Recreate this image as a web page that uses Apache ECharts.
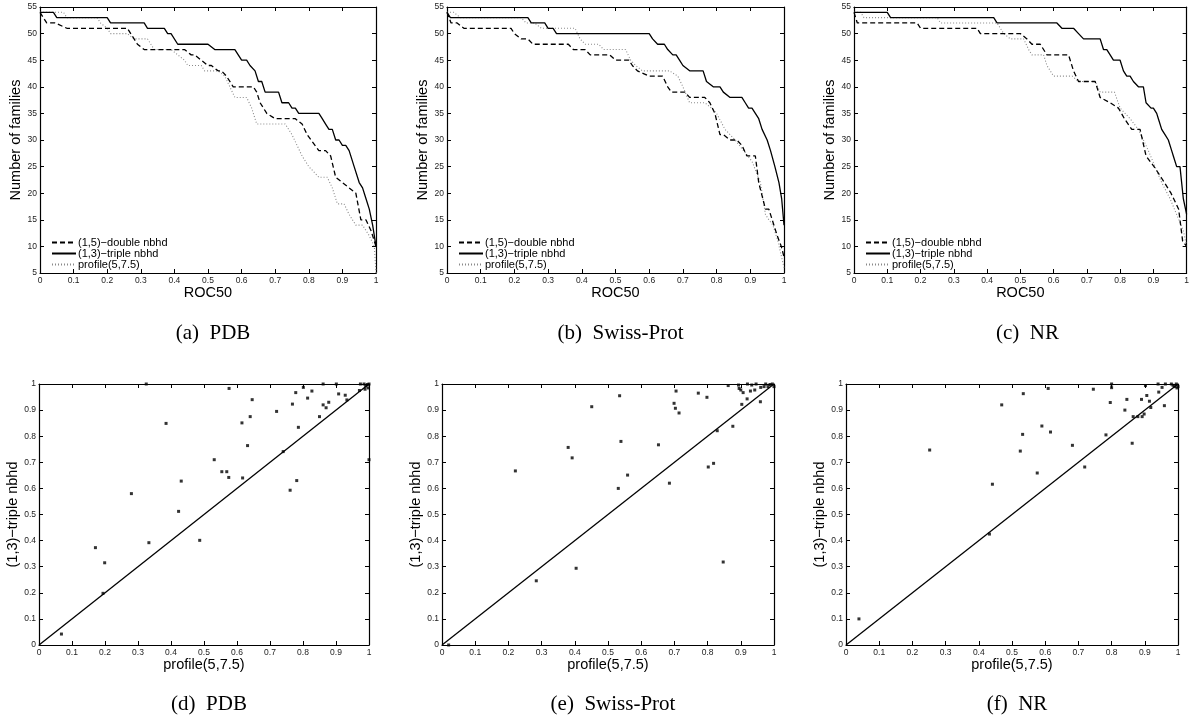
<!DOCTYPE html>
<html><head><meta charset="utf-8">
<script src="https://cdn.jsdelivr.net/npm/echarts@6/dist/echarts.min.js"></script>
<style>html,body{margin:0;padding:0;background:#fff}#c{width:1192px;height:719px}</style>
</head><body><div id="c"></div><script>
// ---------- data ----------
const seriesNames = ['(1,5)\u2212double nbhd', '(1,3)\u2212triple nbhd', 'profile(5,7.5)'];
const captions = ['(a)  PDB', '(b)  Swiss-Prot', '(c)  NR', '(d)  PDB', '(e)  Swiss-Prot', '(f)  NR'];
const rocAxisName = 'ROC50';
const famAxisName = 'Number of families';
const scatterXName = 'profile(5,7.5)';
const scatterYName = '(1,3)\u2212triple nbhd';

const pdbDouble = [[0,54],[0.02,52],[0.045,52],[0.08,51],[0.26,51],[0.27,50],[0.28,49],[0.29,48],[0.31,47],[0.43,47],[0.45,46],[0.46,46],[0.48,45],[0.5,44],[0.51,44],[0.53,43],[0.54,43],[0.555,42],[0.575,40],[0.635,40],[0.645,39],[0.655,37],[0.675,35],[0.7,34],[0.76,34],[0.78,33],[0.795,31],[0.83,28],[0.85,28],[0.865,27],[0.88,23],[0.9,22],[0.92,21],[0.94,20],[0.955,15],[0.97,15],[0.985,13],[1,10]];
const pdbTriple = [[0,54],[0.04,54],[0.05,53],[0.2,53],[0.21,52],[0.31,52],[0.32,51],[0.37,51],[0.38,50],[0.39,50],[0.41,48],[0.5,48],[0.52,47],[0.58,47],[0.59,46],[0.6,45],[0.615,45],[0.625,44],[0.64,43],[0.65,41],[0.66,41],[0.67,39],[0.71,39],[0.72,37],[0.74,37],[0.75,36],[0.76,36],[0.77,35],[0.83,35],[0.84,34],[0.85,33],[0.86,32],[0.87,32],[0.88,30],[0.89,30],[0.9,29],[0.91,29],[0.92,28],[0.935,25],[0.95,22],[0.96,21],[0.97,19],[0.98,17],[0.99,14],[1,10]];
const pdbProfile = [[0,54],[0.07,54],[0.08,53],[0.17,53],[0.18,52],[0.2,51],[0.21,50],[0.26,50],[0.28,49],[0.32,49],[0.33,48],[0.34,47],[0.39,47],[0.41,46],[0.43,45],[0.44,44],[0.48,44],[0.49,43],[0.53,43],[0.55,42],[0.565,40],[0.58,38],[0.615,38],[0.63,36],[0.645,33],[0.73,33],[0.75,31],[0.765,29],[0.78,27],[0.8,25],[0.83,23],[0.855,23],[0.87,21],[0.885,18],[0.905,18],[0.92,16],[0.94,14],[0.96,14],[0.98,12],[0.995,10],[1,5]];

const spDouble = [[0,54],[0.012,52],[0.03,52],[0.05,51],[0.19,51],[0.2,50],[0.22,49],[0.24,49],[0.255,48],[0.36,48],[0.375,47],[0.41,47],[0.425,46],[0.483,46],[0.5,45],[0.54,45],[0.55,44],[0.565,43],[0.6,42],[0.64,42],[0.655,40],[0.666,39],[0.706,39],[0.72,38],[0.765,38],[0.78,37],[0.795,35],[0.81,31],[0.82,31],[0.84,30],[0.86,30],[0.875,29],[0.89,27],[0.915,27],[0.925,22],[0.945,17],[0.955,17],[0.965,15],[0.98,12],[0.992,10],[1,8]];
const spTriple = [[0,54],[0.01,53],[0.24,53],[0.25,52],[0.29,52],[0.3,51],[0.315,51],[0.325,50],[0.6,50],[0.61,49],[0.625,48],[0.645,48],[0.655,47],[0.67,46],[0.68,46],[0.69,45],[0.7,44],[0.72,43],[0.76,43],[0.77,41],[0.79,40],[0.81,40],[0.82,39],[0.84,38],[0.875,38],[0.885,37],[0.895,36],[0.905,36],[0.915,35],[0.925,34],[0.935,32],[0.95,30],[0.96,28],[0.973,25],[0.985,22],[0.993,19],[1,14]];
const spProfile = [[0,54],[0.02,54],[0.04,53],[0.22,53],[0.235,52],[0.26,52],[0.28,51],[0.38,51],[0.395,49],[0.41,48],[0.45,48],[0.465,47],[0.53,47],[0.545,45],[0.56,44],[0.58,43],[0.66,43],[0.685,42],[0.7,40],[0.72,37],[0.765,37],[0.785,36],[0.8,35],[0.825,32],[0.855,30],[0.88,28],[0.905,26],[0.93,22],[0.945,16],[0.955,15],[0.967,14],[0.982,11],[1,6]];

const nrDouble = [[0,54],[0.01,52],[0.19,52],[0.2,51],[0.37,51],[0.38,50],[0.5,50],[0.52,49],[0.535,48],[0.56,48],[0.58,46],[0.645,46],[0.66,43],[0.675,41],[0.725,41],[0.74,38],[0.77,37],[0.795,36],[0.813,34],[0.835,32],[0.86,32],[0.878,27],[0.902,25],[0.923,23],[0.953,20],[0.976,17],[0.988,11],[1,10]];
const nrTriple = [[0,54],[0.1,54],[0.11,53],[0.42,53],[0.43,52],[0.61,52],[0.625,51],[0.66,51],[0.675,50],[0.69,49],[0.74,49],[0.75,47],[0.76,47],[0.77,46],[0.78,45],[0.8,45],[0.81,43],[0.82,42],[0.83,42],[0.84,41],[0.855,40],[0.87,40],[0.878,37],[0.893,36],[0.9,36],[0.91,35],[0.915,34],[0.925,32],[0.935,31],[0.945,30],[0.955,28],[0.96,27],[0.97,25],[0.98,25],[0.99,19],[1,16]];
const nrProfile = [[0,54],[0.02,54],[0.03,53],[0.25,53],[0.26,52],[0.43,52],[0.45,50],[0.47,49],[0.51,49],[0.525,47],[0.535,46],[0.57,46],[0.58,44],[0.6,42],[0.656,42],[0.675,41],[0.725,41],[0.74,39],[0.783,39],[0.8,36],[0.83,34],[0.855,32],[0.87,30],[0.885,28],[0.905,25],[0.925,22],[0.95,19],[0.97,16],[0.99,13],[1,10]];

const pdbScatter = [[0.068,0.042],[0.194,0.198],[0.171,0.373],[0.199,0.315],[0.28,0.58],[0.333,0.392],[0.385,0.849],[0.423,0.512],[0.431,0.628],[0.487,0.401],[0.531,0.71],[0.554,0.664],[0.569,0.664],[0.575,0.642],[0.576,0.983],[0.615,0.851],[0.617,0.64],[0.632,0.764],[0.64,0.875],[0.646,0.94],[0.72,0.895],[0.74,0.741],[0.761,0.593],[0.768,0.923],[0.778,0.967],[0.781,0.63],[0.786,0.834],[0.801,0.987],[0.814,0.946],[0.827,0.973],[0.85,0.875],[0.861,0.92],[0.861,1.0],[0.87,0.909],[0.878,0.93],[0.908,0.962],[0.901,1.0],[0.928,0.957],[0.933,0.939],[0.971,0.975],[0.974,1.0],[0.985,1.0],[0.99,0.992],[0.995,0.998],[0.998,0.985],[1.0,0.71],[0.325,1.0],[0.988,0.98],[1.0,1.0]];
const spScatter = [[0.02,0.0],[0.221,0.667],[0.284,0.246],[0.38,0.757],[0.392,0.717],[0.404,0.294],[0.451,0.913],[0.531,0.6],[0.535,0.955],[0.539,0.78],[0.559,0.651],[0.652,0.767],[0.685,0.62],[0.699,0.926],[0.703,0.907],[0.705,0.973],[0.714,0.889],[0.772,0.965],[0.798,0.949],[0.802,0.682],[0.818,0.696],[0.829,0.821],[0.847,0.318],[0.876,0.838],[0.862,0.994],[0.893,0.996],[0.895,0.983],[0.9,0.977],[0.903,0.922],[0.907,0.967],[0.919,0.943],[0.929,0.973],[0.933,0.996],[0.942,0.977],[0.946,1.0],[0.959,0.932],[0.96,0.987],[0.975,1.0],[0.982,0.99],[0.988,0.998],[0.995,1.0],[1.0,0.99],[0.92,1.0],[0.97,0.99]];
const nrScatter = [[0.039,0.1],[0.252,0.747],[0.432,0.425],[0.441,0.616],[0.469,0.92],[0.525,0.743],[0.532,0.807],[0.534,0.963],[0.576,0.659],[0.59,0.839],[0.609,0.983],[0.616,0.816],[0.682,0.765],[0.719,0.682],[0.745,0.98],[0.783,0.805],[0.796,0.929],[0.8,1.0],[0.8,0.986],[0.84,0.9],[0.846,0.941],[0.862,0.773],[0.865,0.875],[0.879,0.875],[0.89,0.941],[0.892,0.875],[0.898,0.885],[0.902,0.994],[0.906,0.956],[0.914,0.934],[0.918,0.91],[0.94,1.0],[0.942,0.969],[0.952,0.987],[0.959,0.917],[0.962,1.0],[0.98,1.0],[0.985,0.995],[0.99,0.99],[0.995,1.0],[1.0,0.99],[0.997,0.985]];
const diagonal = [[0,0],[1,1]];

const curveSets = [[pdbDouble, pdbTriple, pdbProfile],[spDouble, spTriple, spProfile],[nrDouble, nrTriple, nrProfile]];
const scatterSets = [pdbScatter, spScatter, nrScatter];

// ---------- layout ----------
const grids = [
  {left:40, top:7, width:336, height:266},
  {left:447, top:7, width:337, height:266},
  {left:854, top:7, width:337, height:266},
  {left:39, top:384, width:330, height:261},
  {left:442, top:384, width:332, height:261},
  {left:846, top:384, width:332, height:261}
];
const SANS = 'Liberation Sans';
const SERIF = 'Liberation Serif';
const lineStyles = [
  {color:'#000', width:1.3, type:[5,3]},
  {color:'#000', width:1.3, type:'solid'},
  {color:'#8a8a8a', width:1.1, type:[1,2]}
];

const xAxes = [], yAxes = [], series = [], titles = [], legends = [];
function fmt1(v){ return String(+v.toFixed(1)); }
grids.forEach((g, gi) => {
  const top = gi < 3;
  const ymin = top ? 5 : 0, ymax = top ? 55 : 1, yint = top ? 5 : 0.1;
  const axLine = {show:true, onZero:false, lineStyle:{color:'#000', width:1.2}};
  const tick = {show:true, inside:true, length:4, lineStyle:{color:'#000', width:1}};
  const lbl = {show:true, fontSize:8.5, color:'#222', margin:3, fontFamily:SANS};
  xAxes.push({type:'value', gridIndex:gi, position:'bottom', min:0, max:1, interval:0.1,
    axisLine:axLine, axisTick:tick, splitLine:{show:false},
    axisLabel:Object.assign({formatter:fmt1}, lbl),
    name: top ? rocAxisName : scatterXName, nameLocation:'middle', nameGap:11,
    nameTextStyle:{fontSize:14.5, fontFamily:SANS, color:'#000'}});
  xAxes.push({type:'value', gridIndex:gi, position:'top', min:0, max:1, interval:0.1,
    axisLine:axLine, axisTick:tick, splitLine:{show:false}, axisLabel:{show:false}});
  yAxes.push({type:'value', gridIndex:gi, position:'left', min:ymin, max:ymax, interval:yint,
    axisLine:axLine, axisTick:tick, splitLine:{show:false},
    axisLabel:Object.assign({formatter: top ? (v => String(v)) : fmt1}, lbl),
    name: top ? famAxisName : scatterYName, nameLocation:'middle', nameGap:14, nameRotate:90,
    nameTextStyle:{fontSize:14.5, fontFamily:SANS, color:'#000'}});
  yAxes.push({type:'value', gridIndex:gi, position:'right', min:ymin, max:ymax, interval:yint,
    axisLine:axLine, axisTick:tick, splitLine:{show:false}, axisLabel:{show:false}});
  const xi = gi*2, yi = gi*2;
  if (top) {
    const sets = curveSets[gi];
    [2,0,1].forEach(k => {
      series.push({type:'line', name:seriesNames[k], xAxisIndex:xi, yAxisIndex:yi, data:sets[k],
        symbol:'none', showSymbol:false, lineStyle:lineStyles[k], itemStyle:{color:lineStyles[k].color},
        animation:false, clip:true, z:k===1?4:3});
    });
    legends.push({show:true, left:g.left+11, top:237, orient:'vertical', itemGap:0,
      itemWidth:24, itemHeight:8, selectedMode:false, data:seriesNames,
      itemStyle:{opacity:0, borderWidth:0},
      textStyle:{fontSize:11, fontFamily:SANS, color:'#000', lineHeight:9.6, padding:[0,0,0,-3]}, padding:0});
  } else {
    series.push({type:'line', xAxisIndex:xi, yAxisIndex:yi, data:diagonal, symbol:'none',
      lineStyle:{color:'#000', width:1.3}, animation:false, silent:true});
    series.push({type:'scatter', xAxisIndex:xi, yAxisIndex:yi, data:scatterSets[gi-3],
      symbol:'rect', symbolSize:3, itemStyle:{color:'#000'}, animation:false, clip:false});
  }
  titles.push({text:captions[gi], left:g.left + g.width/2, top: top ? 318 : 689, textAlign:'center',
    textStyle:{fontFamily:SERIF, fontSize:21, fontWeight:'normal', color:'#000'}});
});

const chart = echarts.init(document.getElementById('c'), null, {renderer:'canvas'});
chart.setOption({
  backgroundColor:'#fff',
  animation:false,
  title:titles,
  legend:legends,
  grid:grids.map(g => Object.assign({containLabel:false, show:false}, g)),
  xAxis:xAxes, yAxis:yAxes, series:series
});
</script></body></html>
